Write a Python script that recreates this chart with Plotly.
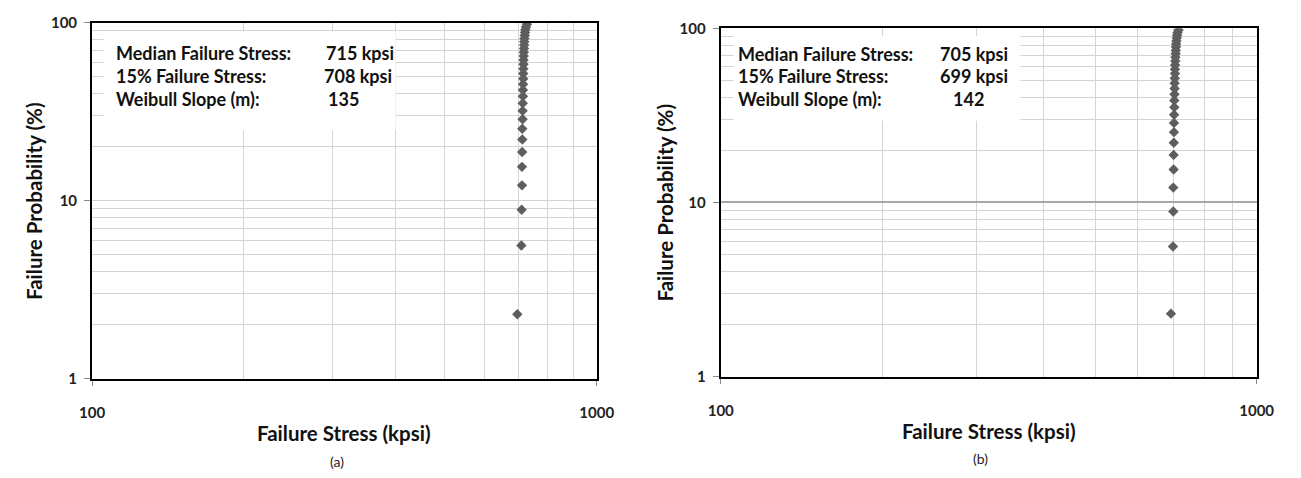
import plotly.graph_objects as go

# ---------------- data ----------------
failure_prob = [2.30, 5.59, 8.88, 12.17, 15.46, 18.75, 22.04, 25.33, 28.62, 31.91,
                35.20, 38.49, 41.78, 45.07, 48.36, 51.64, 54.93, 58.22, 61.51, 64.80,
                68.09, 71.38, 74.67, 77.96, 81.25, 84.54, 87.83, 91.12, 94.41, 97.70]

stress_a = [696, 709, 710, 711, 711, 711.5, 712, 712, 713, 713,
            713.5, 714, 714, 714.5, 715, 715, 715.5, 716, 716, 716.5,
            717, 717.5, 718, 718.5, 719, 720, 721, 722, 724, 727]

stress_b = [692, 698, 699, 699, 700, 700, 700.5, 701, 701, 701.5,
            702, 702, 702.5, 703, 703, 703.5, 704, 704, 704.5, 705,
            705.5, 706, 706.5, 707, 707.5, 708.5, 709.5, 710.5, 712, 715]

x_tick_vals = [100, 1000]
x_tick_text = ["100", "1000"]
y_tick_vals = [1, 10, 100]
y_tick_text = ["1", "10", "100"]
x_minor_grid = [200, 300, 400, 500, 600, 700, 800, 900]
y_minor_grid = [2, 3, 4, 5, 6, 7, 8, 9, 20, 30, 40, 50, 60, 70, 80, 90]

stat_labels = ["Median Failure Stress:", "15% Failure Stress:", "Weibull Slope (m):"]
stats_a = ["715 kpsi", "708 kpsi", "135"]
stats_b = ["705 kpsi", "699 kpsi", "142"]

x_title = "Failure Stress (kpsi)"
y_title = "Failure Probability (%)"
panel_labels = ["(a)", "(b)"]

# ---------------- layout geometry ----------------
W, H = 1301, 478
FONT = "Lato"


def px(x):
    return x / W


def py(y):
    return 1 - y / H


panels = [
    dict(x0=81, x1=598, y0=13, y1=383, data=stress_a, stats=stats_a,
         box=(93, 22, 392, 125), lines_y=(45, 69, 93), lab_x=103,
         val_x=(319, 317, 321), ytitle_x=21, xtitle_y=440, plabel_y=469,
         major_grid="#d4d4d4", major_w=1),
    dict(x0=725, x1=1274, y0=19, y1=381, data=stress_b, stats=stats_b,
         box=(738, 27, 1032, 115), lines_y=(46, 69, 92), lab_x=741,
         val_x=(948, 948, 961), ytitle_x=668, xtitle_y=437, plabel_y=466,
         major_grid="#a8a8a8", major_w=1.5),
]

fig = go.Figure()
shapes = []
annotations = []

for i, p in enumerate(panels):
    sfx = "" if i == 0 else str(i + 1)
    xa, ya = "x" + sfx, "y" + sfx

    fig.add_trace(go.Scatter(
        x=p["data"], y=failure_prob, mode="markers",
        marker=dict(symbol="diamond", size=8, color="#5e5e5e"),
        xaxis=xa, yaxis=ya, showlegend=False, hoverinfo="x+y"))

    fig.update_layout(**{
        "xaxis" + sfx: dict(
            type="log", range=[2, 3], domain=[px(p["x0"]), px(p["x1"])],
            anchor=ya, showline=True, linecolor="black", linewidth=2, mirror=True,
            ticks="outside", ticklen=5, tickwidth=1, tickcolor="#888888",
            tickvals=x_tick_vals, ticktext=x_tick_text, showgrid=False,
            ticklabelstandoff=14,
            tickfont=dict(family=FONT, size=15, color="#222222", weight="bold"),
            minor=dict(tickvals=x_minor_grid, showgrid=True, gridcolor="#d4d4d4",
                       gridwidth=1, ticks=""),
            zeroline=False, fixedrange=True),
        "yaxis" + sfx: dict(
            type="log", range=[0, 2], domain=[py(p["y1"]), py(p["y0"])],
            anchor=xa, showline=True, linecolor="black", linewidth=2, mirror=True,
            ticks="outside", ticklen=6, tickwidth=1, tickcolor="#888888",
            tickvals=y_tick_vals, ticktext=y_tick_text,
            showgrid=True, gridcolor=p["major_grid"], gridwidth=p["major_w"],
            ticklabelstandoff=4,
            tickfont=dict(family=FONT, size=15, color="#222222", weight="bold"),
            minor=dict(tickvals=y_minor_grid, showgrid=True, gridcolor="#d4d4d4",
                       gridwidth=1, ticks=""),
            zeroline=False, fixedrange=True),
    })

    # white stats text box (hides the grid behind it)
    bx0, by0, bx1, by1 = p["box"]
    shapes.append(dict(type="rect", xref="paper", yref="paper",
                       x0=px(bx0), x1=px(bx1), y0=py(by1), y1=py(by0),
                       fillcolor="white", line=dict(width=0), layer="above"))

    for j, lab in enumerate(stat_labels):
        annotations.append(dict(
            text=lab, xref="paper", yref="paper", x=px(p["lab_x"]), y=py(p["lines_y"][j]),
            xanchor="left", yanchor="middle", showarrow=False,
            font=dict(family=FONT, size=18, color="#111111", weight="bold")))
        annotations.append(dict(
            text=p["stats"][j], xref="paper", yref="paper", x=px(p["val_x"][j]),
            y=py(p["lines_y"][j]), xanchor="left", yanchor="middle", showarrow=False,
            font=dict(family=FONT, size=18, color="#111111", weight="bold")))

    cx = (p["x0"] + p["x1"]) / 2
    cy = (p["y0"] + p["y1"]) / 2
    annotations.append(dict(
        text=x_title, xref="paper", yref="paper", x=px(cx), y=py(p["xtitle_y"]),
        xanchor="center", yanchor="middle", showarrow=False,
        font=dict(family=FONT, size=20.5, color="#111111", weight="bold")))
    annotations.append(dict(
        text=y_title, xref="paper", yref="paper", x=px(p["ytitle_x"]), y=py(cy),
        xanchor="center", yanchor="middle", showarrow=False, textangle=-90,
        font=dict(family=FONT, size=20.5, color="#111111", weight="bold")))
    annotations.append(dict(
        text=panel_labels[i], xref="paper", yref="paper", x=px(cx - 8), y=py(p["plabel_y"]),
        xanchor="center", yanchor="middle", showarrow=False,
        font=dict(family=FONT, size=14, color="#222222")))

fig.update_layout(
    width=W, height=H, margin=dict(l=0, r=0, t=0, b=0),
    paper_bgcolor="white", plot_bgcolor="white",
    shapes=shapes, annotations=annotations, showlegend=False,
)

fig.write_html("out.html")
